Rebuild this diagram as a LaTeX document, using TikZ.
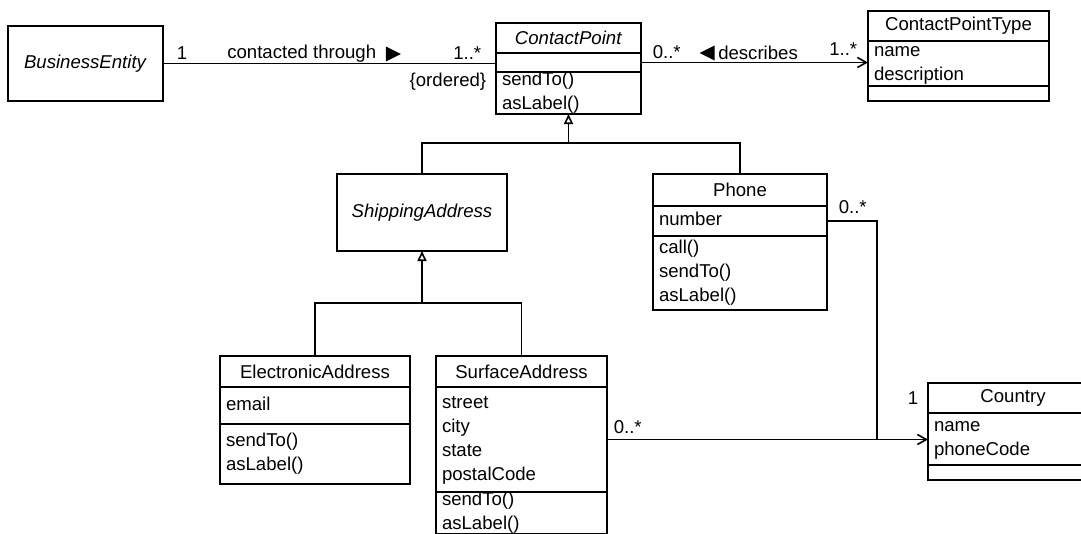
\documentclass[tikz,border=0pt]{standalone}
\usepackage{fontspec}
\setmainfont{Liberation Sans}
\usetikzlibrary{positioning, arrows.meta, shapes.geometric}
\newcommand{\umlfont}{\fontsize{18.6pt}{24pt}\selectfont}
\newcommand{\umlstrut}{\rule[-3.9pt]{0pt}{17.5pt}}

\begin{document}
\begin{tikzpicture}[x=1pt, y=-1pt, line width=1.6pt,
    every node/.style={font=\umlfont},
    cls/.style={draw, inner xsep=6pt, inner ysep=0pt, outer sep=0pt},
    ctitle/.style={cls, anchor=north west, align=center},
    cpart/.style={cls, align=left},
    lines/.style={execute at begin node=\umlstrut, execute at end node=\umlstrut},
    lbl/.style={inner sep=3pt},
    dirtri/.style={isosceles triangle, isosceles triangle stretches, fill=black,
        draw=none, inner sep=0pt, minimum width=15pt, minimum height=15pt},
    gen/.style={-{Triangle[open, length=10pt, width=9pt]}},
    nav/.style={-{Straight Barb[length=9pt, width=10pt]}}]
    \useasboundingbox (0,0) rectangle (1081,533);
    \clip (0,0) rectangle (1081,533);

    % Classes
    \node[ctitle, minimum width=155pt, minimum height=75pt] (be) at (8,26) {\textit{BusinessEntity}};

    \node[ctitle, minimum width=145pt, minimum height=30pt] (cp) at (496,23) {\textit{ContactPoint}};
    \node[cpart, minimum width=145pt, minimum height=19pt, below=0pt of cp] (cpA) {};
    \node[cpart, lines, text width=133pt, minimum height=42pt, below=0pt of cpA] (cpO) {sendTo()\\asLabel()};

    \node[ctitle, minimum width=181pt, minimum height=30pt] (cpt) at (868,11) {ContactPointType};
    \node[cpart, lines, text width=169pt, minimum height=45pt, below=0pt of cpt] (cptA) {name\\description};
    \node[cpart, minimum width=181pt, minimum height=15pt, below=0pt of cptA] (cptO) {};

    \node[ctitle, minimum width=170pt, minimum height=77pt] (sa) at (337,174) {\textit{ShippingAddress}};

    \node[ctitle, minimum width=174pt, minimum height=32pt] (ph) at (653,174) {Phone};
    \node[cpart, lines, text width=162pt, minimum height=30pt, below=0pt of ph] (phA) {number};
    \node[cpart, lines, text width=162pt, minimum height=74pt, below=0pt of phA] (phO) {call()\\sendTo()\\asLabel()};

    \node[ctitle, minimum width=190pt, minimum height=31pt] (ea) at (220,356) {ElectronicAddress};
    \node[cpart, lines, text width=178pt, minimum height=37pt, below=0pt of ea] (eaA) {email};
    \node[cpart, lines, text width=178pt, minimum height=60pt, below=0pt of eaA] (eaO) {sendTo()\\asLabel()};

    \node[ctitle, minimum width=171pt, minimum height=31pt] (su) at (436,356) {SurfaceAddress};
    \node[cpart, lines, text width=159pt, minimum height=105pt, below=0pt of su] (suA) {street\\city\\state\\postalCode};
    \node[cpart, lines, text width=159pt, minimum height=42pt, below=0pt of suA] (suO) {sendTo()\\asLabel()};

    \node[ctitle, minimum width=170pt, minimum height=30pt] (co) at (928,383) {Country};
    \node[cpart, lines, text width=158pt, minimum height=52pt, below=0pt of co] (coA) {name\\phoneCode};
    \node[cpart, minimum width=170pt, minimum height=15pt, below=0pt of coA] (coO) {};

    % Associations
    \draw (be.east) -- (be.east -| cpA.west)
        node[lbl, pos=0, anchor=south west, xshift=10pt] (m1) {1}
        node[lbl, pos=1, anchor=south east, xshift=-11pt] (m2) {1..*}
        node[lbl, pos=1, anchor=north east, xshift=-6pt, yshift=-6pt] (ord) {\{ordered\}}
        node[dirtri, pos=0.683, yshift=9.5pt] (dir1) {};
    \node[lbl, left=5pt of dir1] (ctl) {contacted through};

    \draw[nav] (cpA.east) -- (cpA.east -| cptA.west)
        node[lbl, pos=0, anchor=south west, xshift=8pt] (m3) {0..*}
        node[lbl, pos=1, anchor=south east, xshift=-7pt, yshift=3pt] (m4) {1..*}
        node[dirtri, shape border rotate=180, pos=0.304, yshift=9.5pt] (dir2) {};
    \node[lbl, right=-1pt of dir2] (dsl) {describes};

    \coordinate (bend) at (877,0);
    \draw (phA.east) -| (bend |- suA.east)
        node[lbl, pos=0, anchor=south west, xshift=8pt, yshift=4pt] (m5) {0..*};
    \draw[nav] (suA.east) -- (suA.east -| coA.west)
        node[lbl, pos=0, anchor=south west, xshift=3pt, yshift=2pt] (m6) {0..*};
    \node[lbl, left=6pt of co.west] (m7) {1};

    % Generalizations
    \coordinate (g1) at ([yshift=-29pt]cpO.south);
    \draw[gen] (g1) -- (cpO.south);
    \draw (sa.north) |- (g1) -| (ph.north);

    \coordinate (g2) at ([yshift=-52pt]sa.south);
    \draw[gen] (g2) -- (sa.south);
    \draw (ea.north) |- (g2) -| (su.north);
\end{tikzpicture}
\end{document}
